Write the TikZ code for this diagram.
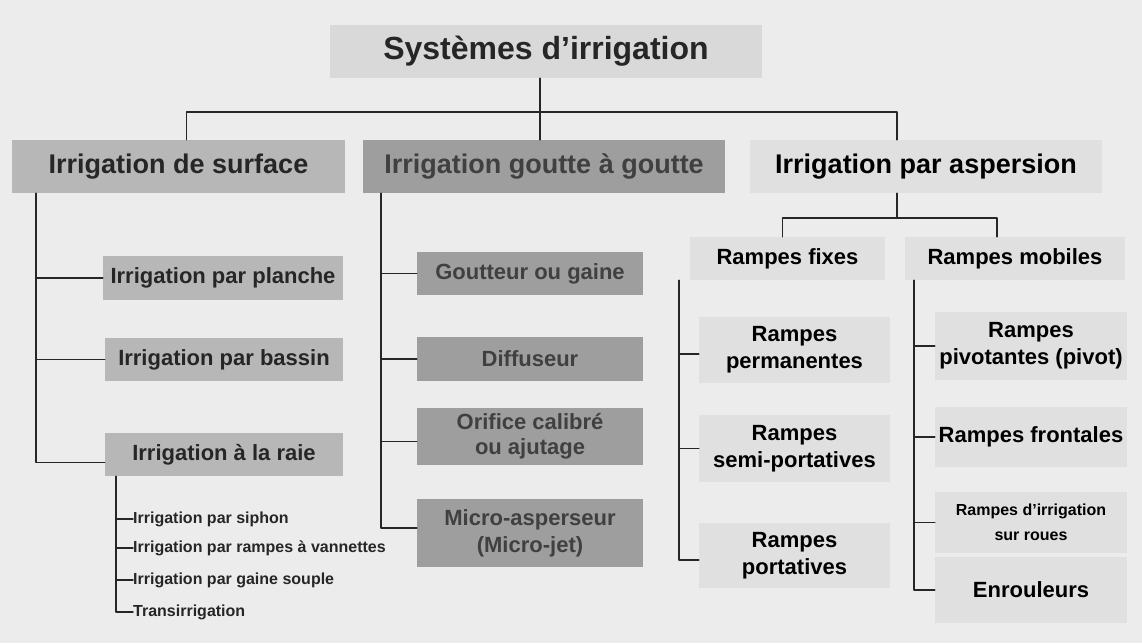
\documentclass[tikz,border=0pt]{standalone}
\usepackage{fontspec}
\setmainfont{Liberation Sans}
\definecolor{fond}{HTML}{ECECEC}
\definecolor{titre}{HTML}{D9D9D9}
\definecolor{surf}{HTML}{B7B7B7}
\definecolor{goutte}{HTML}{9E9E9E}
\definecolor{clair}{HTML}{E0E0E0}
\newcommand\szTitre{\fontsize{32}{36}\selectfont}
\newcommand\szUn{\fontsize{27}{30}\selectfont}
\newcommand\szDeux{\fontsize{22}{27}\selectfont}
\newcommand\szTrois{\fontsize{16}{25}\selectfont}
\begin{document}
\begin{tikzpicture}[line join=round,line cap=round,x=1pt,y=-1pt]
			\tikzset{boite/.style={rectangle,inner sep=0pt,align=center,text=black!85,font=\bfseries\szDeux},
				niveau/.style={boite,minimum height=53pt,font=\bfseries\szUn},
				petit/.style={anchor=west,inner sep=0pt,text=black!85,font=\bfseries\szTrois},
				lien/.style={line width=1.4pt,black!85}}
			\fill[fond] (0,0) rectangle (1142,643);
			\useasboundingbox (0,0) rectangle (1142,643);
			\node[boite,fill=titre,minimum width=432pt,minimum height=53pt,font=\bfseries\szTitre] (sys) at (546,51.5) {Systèmes d'irrigation};
			\node[niveau,fill=surf,minimum width=333pt] (surface) at (178.5,166.5) {Irrigation de surface};
			\node[niveau,fill=goutte,minimum width=362pt,text=black!75] (gag) at (544,166.5) {Irrigation goutte à goutte};
			\node[niveau,fill=clair,minimum width=352pt,text=black] (asp) at (926,166.5) {Irrigation par aspersion};
			\coordinate (hub) at (540,112);
			\draw[lien] (sys.south -| hub) -- (hub);
			\draw[lien] (hub) -| ([xshift=8pt]surface.north);
			\draw[lien] (hub) -- (gag.north -| hub);
			\draw[lien] (hub) -| ([xshift=-29pt]asp.north);
			\node[boite,fill=surf,minimum width=240pt,minimum height=44pt] (planche) at (223,278) {Irrigation par planche};
			\node[boite,fill=surf,minimum width=238pt,minimum height=43pt] (bassin) at (224,359.5) {Irrigation par bassin};
			\node[boite,fill=surf,minimum width=238pt,minimum height=43pt] (raie) at (224,454.5) {Irrigation à la raie};
			\coordinate (tS) at ([xshift=24pt]surface.south west);
			\draw[lien] (tS) |- ([yshift=-8pt]raie.west);
			\draw[lien] (tS |- planche.west) -- (planche.west);
			\draw[lien] (tS |- bassin.west) -- (bassin.west);
			\node[petit] (siphon) at (133,519) {Irrigation par siphon};
			\node[petit] (vannettes) at (133,548) {Irrigation par rampes à vannettes};
			\node[petit] (gaine) at (133,580) {Irrigation par gaine souple};
			\node[petit] (trans) at (133,612) {Transirrigation};
			\coordinate (tR) at ([xshift=11pt]raie.south west);
			\draw[lien] (tR) |- (trans.west);
			\foreach \n in {siphon,vannettes,gaine}
			\draw[lien] (tR |- \n.west) -- (\n.west);
			\tikzset{gbox/.style={boite,fill=goutte,text=black!75,minimum width=226pt}}
			\node[gbox,minimum height=43pt] (goutteur) at (530,273.5) {Goutteur ou gaine};
			\node[gbox,minimum height=44pt] (diffuseur) at (530,359) {Diffuseur};
			\node[gbox,minimum height=57pt,font=\bfseries\fontsize{22}{25}\selectfont] (orifice) at (530,436.5) {Orifice calibré\\ou ajutage};
			\node[gbox,minimum height=68pt] (micro) at (530,533) {Micro-asperseur\\(Micro-jet)};
			\coordinate (tG) at ([xshift=18pt]gag.south west);
			\draw[lien] (tG) |- ([yshift=5pt]micro.west);
			\draw[lien] (tG |- goutteur.west) -- (goutteur.west);
			\draw[lien] (tG |- diffuseur.west) -- (diffuseur.west);
			\draw[lien] (tG |- orifice.west) ++(0,5) -- ([yshift=-5pt]orifice.west);
			\tikzset{abox/.style={boite,fill=clair,text=black}}
			\node[abox,minimum width=195pt,minimum height=43pt] (fixes) at (787.5,258.5) {Rampes fixes};
			\node[abox,minimum width=220pt,minimum height=43pt] (mobiles) at (1015,258.5) {Rampes mobiles};
			\coordinate (hubA) at (897,218);
			\draw[lien] (asp.south -| hubA) -- (hubA);
			\draw[lien] (hubA) -| ([xshift=-5pt]fixes.north);
			\draw[lien] (hubA) -| ([xshift=-18pt]mobiles.north);
			\node[abox,minimum width=191pt,minimum height=66pt] (perm) at (794.5,350) {Rampes\\permanentes};
			\node[abox,minimum width=191pt,minimum height=67pt] (semi) at (794.5,448.5) {Rampes\\semi-portatives};
			\node[abox,minimum width=191pt,minimum height=65pt] (port) at (794.5,555.5) {Rampes\\portatives};
			\coordinate (tF) at ([xshift=-11pt]fixes.south west);
			\draw[lien] (tF) |- ([yshift=-4.5pt]port.west);
			\draw[lien] (tF |- perm.west) ++(0,4) -- ([yshift=-4pt]perm.west);
			\draw[lien] (tF |- semi.west) -- (semi.west);
			\node[abox,minimum width=192pt,minimum height=68pt] (pivot) at (1031,346) {Rampes\\pivotantes (pivot)};
			\node[abox,minimum width=192pt,minimum height=60pt] (frontales) at (1031,437) {Rampes frontales};
			\node[abox,minimum width=192pt,minimum height=61pt,font=\bfseries\szTrois] (roues) at (1031,522.5) {Rampes d'irrigation\\sur roues};
			\node[abox,minimum width=192pt,minimum height=66pt] (enrouleurs) at (1031,590) {Enrouleurs};
			\coordinate (tM) at ([xshift=9pt]mobiles.south west);
			\draw[lien] (tM) |- (enrouleurs.west);
			\foreach \n in {pivot,frontales,roues}
			\draw[lien] (tM |- \n.west) -- (\n.west);
		\end{tikzpicture}
\end{document}
